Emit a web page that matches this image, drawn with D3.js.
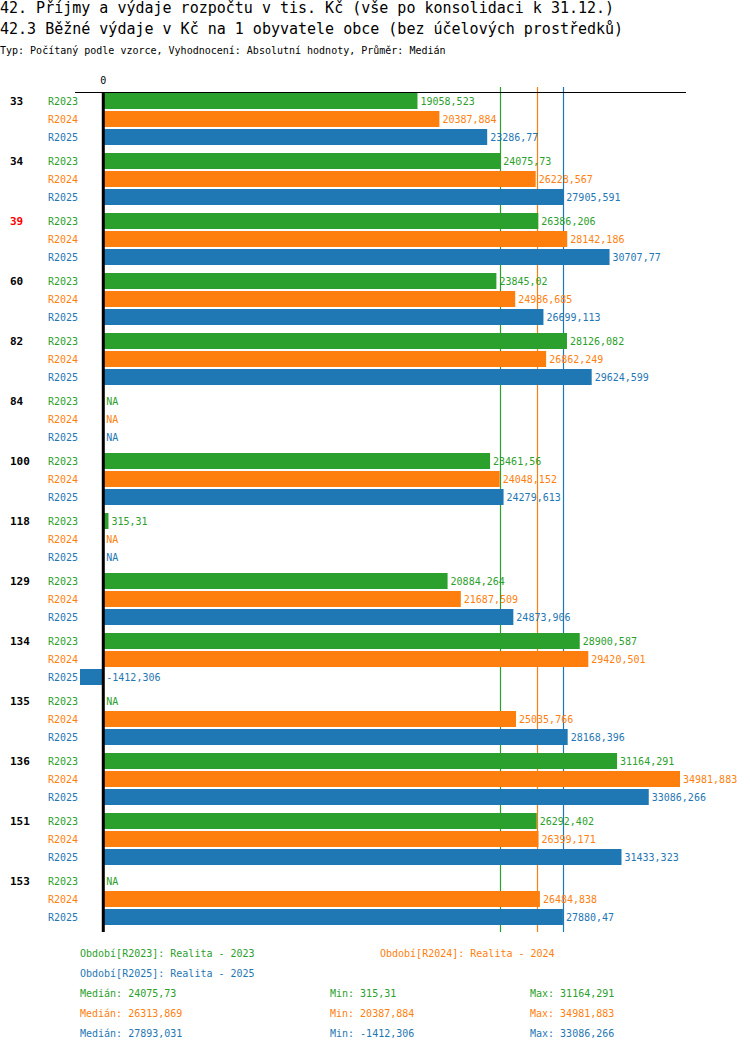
<!DOCTYPE html>
<html lang="cs">
<head>
<meta charset="UTF-8"/>
<title>42.3 Běžné výdaje v Kč na 1 obyvatele obce</title>
<script src="https://d3js.org/d3.v7.min.js"></script>
<style>
  body { margin: 0; background: #fff; }
  text { font-family: "DejaVu Sans Mono", "Liberation Mono", monospace; }
</style>
</head>
<body>
<script>
var w = 750;
var h = 1052;

var categories = ["33", "34", "39", "60", "82", "84", "100", "118", "129", "134", "135", "136", "151", "153"];
var highlighted = ["39"];
var series = ["R2023", "R2024", "R2025"];
var seriesNames = ["Realita - 2023", "Realita - 2024", "Realita - 2025"];
var colors = ["#2ca02c", "#ff7f0e", "#1f77b4"];

// null = NA
var r2023 = [19058.523, 24075.73, 26386.206, 23845.02, 28126.082, null, 23461.56, 315.31, 20884.264, 28900.587, null, 31164.291, 26292.402, null];
var r2024 = [20387.884, 26228.567, 28142.186, 24986.685, 26862.249, null, 24048.152, null, 21687.509, 29420.501, 25035.766, 34981.883, 26399.171, 26484.838];
var r2025 = [23286.77, 27905.591, 30707.77, 26699.113, 29624.599, null, 24279.613, null, 24873.906, -1412.306, 28168.396, 33086.266, 31433.323, 27880.47];
var values = [r2023, r2024, r2025];

function fmt(v) {
  return (+v.toFixed(3)).toString().replace(".", ",");
}

var svg = d3.select("body").append("svg")
  .attr("width", w)
  .attr("height", h);

// titles
svg.append("text").attr("x", 0).attr("y", 13)
  .attr("font-size", 15).text("42. Příjmy a výdaje rozpočtu v tis. Kč (vše po konsolidaci k 31.12.)");
svg.append("text").attr("x", 0).attr("y", 34)
  .attr("font-size", 15).text("42.3 Běžné výdaje v Kč na 1 obyvatele obce (bez účelových prostředků)");
svg.append("text").attr("x", 0).attr("y", 54)
  .attr("font-size", 10).text("Typ: Počítaný podle vzorce, Vyhodnocení: Absolutní hodnoty, Průměr: Medián");

var all = [].concat(r2023, r2024, r2025).filter(function(d) { return d !== null; });

var xScale = d3.scaleLinear()
  .domain([d3.min(all), d3.max(all)])
  .range([80, 680]);

var yScale = d3.scaleBand()
  .domain(categories)
  .range([93, 93 + 60 * categories.length]);

var rowScale = d3.scaleBand()
  .domain(series)
  .range([0, 54]);

var x0 = xScale(0);
var bottom = yScale.range()[1] - 1;

// median lines (behind the bars)
var medians = values.map(function(s) {
  return d3.median(s.filter(function(d) { return d !== null; }));
});
medians.forEach(function(m, i) {
  var xm = Math.round(xScale(m)) + 0.5;
  svg.append("line")
    .attr("x1", xm).attr("x2", xm)
    .attr("y1", 87).attr("y2", bottom)
    .style("stroke", colors[i])
    .style("stroke-width", 1.2);
});

// groups
var groups = svg.selectAll("g.cat")
  .data(categories)
  .enter().append("g")
  .attr("class", "cat")
  .attr("transform", function(d) { return "translate(0," + yScale(d) + ")"; });

groups.append("text")
  .attr("x", 10)
  .attr("y", 12)
  .attr("font-size", 11)
  .attr("font-weight", "bold")
  .attr("fill", function(d) { return highlighted.indexOf(d) >= 0 ? "#ff0000" : "#000"; })
  .text(function(d) { return d; });

var rows = groups.selectAll("g.row")
  .data(function(d, ci) {
    return series.map(function(s, si) {
      return { cat: d, s: s, si: si, v: values[si][ci] };
    });
  })
  .enter().append("g")
  .attr("class", "row")
  .attr("transform", function(d) { return "translate(0," + rowScale(d.s) + ")"; });

rows.append("text")
  .attr("x", 48)
  .attr("y", 12)
  .attr("font-size", 10)
  .attr("fill", function(d) { return colors[d.si]; })
  .text(function(d) { return d.s; });

rows.filter(function(d) { return d.v !== null; })
  .append("rect")
  .attr("x", function(d) { return Math.min(xScale(d.v), x0); })
  .attr("y", 0)
  .attr("width", function(d) { return Math.abs(xScale(d.v) - x0); })
  .attr("height", 16)
  .attr("fill", function(d) { return colors[d.si]; });

rows.append("text")
  .attr("x", function(d) { return (d.v === null || d.v < 0 ? x0 : xScale(d.v)) + 3; })
  .attr("y", 12)
  .attr("font-size", 10)
  .attr("fill", function(d) { return colors[d.si]; })
  .text(function(d) { return d.v === null ? "NA" : fmt(d.v); });

// axes
svg.append("line")
  .attr("x1", 75).attr("x2", 686)
  .attr("y1", 92.5).attr("y2", 92.5)
  .attr("stroke", "#000").attr("stroke-width", 1);
svg.append("line")
  .attr("x1", x0).attr("x2", x0)
  .attr("y1", 92).attr("y2", bottom)
  .attr("stroke", "#000").attr("stroke-width", 3);
svg.append("text")
  .attr("x", x0).attr("y", 84)
  .attr("font-size", 10)
  .attr("text-anchor", "middle")
  .text("0");

// legend
var legendPos = [[80, 957], [380, 957], [80, 977]];
svg.selectAll("text.legend")
  .data(series)
  .enter().append("text")
  .attr("class", "legend")
  .attr("x", function(d, i) { return legendPos[i][0]; })
  .attr("y", function(d, i) { return legendPos[i][1]; })
  .attr("font-size", 10)
  .attr("fill", function(d, i) { return colors[i]; })
  .text(function(d, i) { return "Období[" + d + "]: " + seriesNames[i]; });

var stats = values.map(function(s) {
  var v = s.filter(function(d) { return d !== null; });
  return [["Medián: ", d3.median(v)], ["Min: ", d3.min(v)], ["Max: ", d3.max(v)]];
});
var statX = [80, 330, 530];
stats.forEach(function(st, i) {
  svg.selectAll(null)
    .data(st)
    .enter().append("text")
    .attr("x", function(d, j) { return statX[j]; })
    .attr("y", 997 + i * 20)
    .attr("font-size", 10)
    .attr("fill", colors[i])
    .text(function(d) { return d[0] + fmt(d[1]); });
});
</script>
</body>
</html>
